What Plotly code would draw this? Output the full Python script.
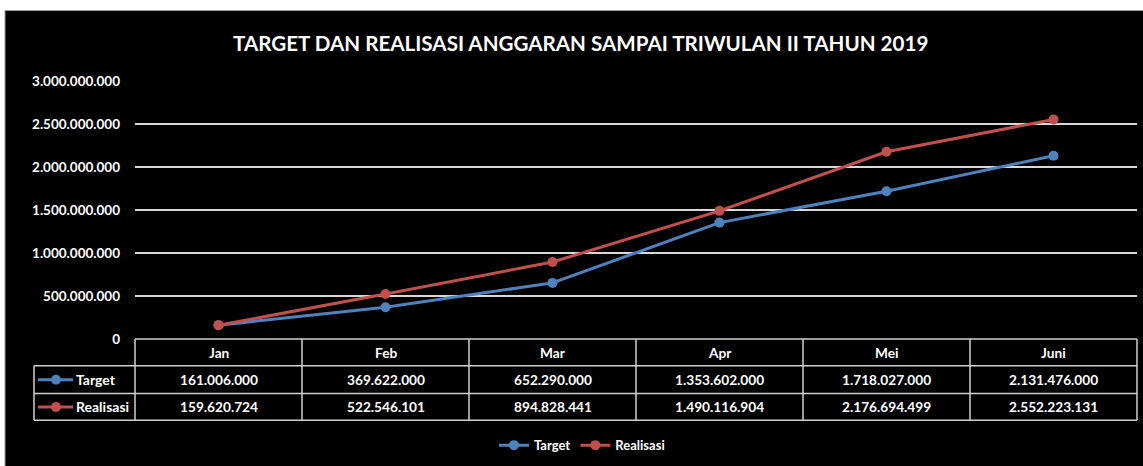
import plotly.graph_objects as go

months = ["Jan", "Feb", "Mar", "Apr", "Mei", "Juni"]
target = [161006000, 369622000, 652290000, 1353602000, 1718027000, 2131476000]
realisasi = [159620724, 522546101, 894828441, 1490116904, 2176694499, 2552223131]
series_names = ["Target", "Realisasi"]
colors = ["#4F81BD", "#C0504D"]
title = "TARGET DAN REALISASI ANGGARAN SAMPAI TRIWULAN II TAHUN 2019"

W, H = 1143, 466
L, R, T, B = 135, 6, 81, 125
PW, PH = W - L - R, H - T - B
FONT = "Lato"

def fmt(v):
    return f"{v:,}".replace(",", ".")

def py(px):  # pixel y -> paper y
    return (H - B - px) / PH

def pxx(px):  # pixel x -> paper x
    return (px - L) / PW

n = len(months)

def bx(i):  # boundary before category i -> paper x
    return i / n

fig = go.Figure()
for name, vals, c in zip(series_names, [target, realisasi], colors):
    fig.add_trace(go.Scatter(
        x=months, y=vals, name=name, mode="lines+markers",
        line=dict(color=c, width=3), marker=dict(color=c, size=10),
    ))

shapes = []
annotations = []
# white strips (outside chart area)
shapes.append(dict(type="rect", xref="paper", yref="paper", x0=pxx(-5), x1=pxx(W + 5),
                   y0=py(10), y1=py(-5), fillcolor="white", line=dict(width=0), layer="above"))
shapes.append(dict(type="rect", xref="paper", yref="paper", x0=pxx(-5), x1=pxx(5),
                   y0=py(H + 5), y1=py(-5), fillcolor="white", line=dict(width=0), layer="above"))
shapes.append(dict(type="line", xref="paper", yref="paper", x0=pxx(5), x1=pxx(W + 5),
                   y0=py(10), y1=py(10), line=dict(color="#9a9a9a", width=1), layer="above"))
shapes.append(dict(type="line", xref="paper", yref="paper", x0=pxx(5), x1=pxx(5),
                   y0=py(H + 5), y1=py(10), line=dict(color="#9a9a9a", width=1), layer="above"))

# data table
xl = pxx(34)
rows = [341, 368, 396, 423]
bc = "#d0d0d0"
shapes.append(dict(type="line", xref="paper", yref="paper", x0=bx(0), x1=bx(n),
                   y0=py(rows[0]), y1=py(rows[0]), line=dict(color=bc, width=1.5)))
for r in rows[1:]:
    shapes.append(dict(type="line", xref="paper", yref="paper", x0=xl, x1=bx(n),
                       y0=py(r), y1=py(r), line=dict(color=bc, width=1.5)))
for i in range(n + 1):
    shapes.append(dict(type="line", xref="paper", yref="paper", x0=bx(i), x1=bx(i),
                       y0=py(rows[0]), y1=py(rows[3]), line=dict(color=bc, width=1.5)))
shapes.append(dict(type="line", xref="paper", yref="paper", x0=xl, x1=xl,
                   y0=py(rows[1]), y1=py(rows[3]), line=dict(color=bc, width=1.5)))

tf = dict(family=FONT, size=13.7, color="white", weight="bold")
for i, m in enumerate(months):
    annotations.append(dict(x=i, y=py((rows[0] + rows[1]) / 2), xref="x", yref="paper",
                            text=m, showarrow=False, font=tf, xanchor="center", yanchor="middle"))
for k, (name, vals, c) in enumerate(zip(series_names, [target, realisasi], colors)):
    yc = py((rows[k + 1] + rows[k + 2]) / 2)
    for i, v in enumerate(vals):
        annotations.append(dict(x=i, y=yc, xref="x", yref="paper", text=fmt(v),
                                showarrow=False, font=tf, xanchor="center", yanchor="middle"))
    annotations.append(dict(x=pxx(74), y=yc, xref="paper", yref="paper", text=name,
                            showarrow=False, font=dict(family=FONT, size=14, color="white", weight="bold"),
                            xanchor="left", yanchor="middle"))
    shapes.append(dict(type="line", xref="paper", yref="paper", x0=pxx(38), x1=pxx(73),
                       y0=yc, y1=yc, line=dict(color=c, width=3)))
    r = 5
    shapes.append(dict(type="circle", xref="paper", yref="paper", x0=pxx(56 - r), x1=pxx(56 + r),
                       y0=yc - r / PH, y1=yc + r / PH, fillcolor=c, line=dict(color=c, width=0)))

annotations.append(dict(x=pxx(580), y=py(43), xref="paper", yref="paper", text=title,
                        showarrow=False, xanchor="center", yanchor="middle",
                        font=dict(family=FONT, size=20.6, color="white", weight="bold")))

fig.update_layout(
    width=W, height=H,
    margin=dict(l=L, r=R, t=T, b=B),
    paper_bgcolor="black", plot_bgcolor="black",
    separators=",.",
    showlegend=True,
    legend=dict(orientation="h", x=pxx(582), y=py(448), xanchor="center", yanchor="middle",
                font=dict(family=FONT, size=13, color="white", weight="bold"),
                bgcolor="rgba(0,0,0,0)", itemwidth=30),
    shapes=shapes, annotations=annotations,
    font=dict(family=FONT),
)
fig.update_xaxes(type="category", range=[-0.5, n - 0.5], showticklabels=False,
                 showgrid=False, zeroline=False, showline=False)
fig.update_yaxes(range=[0, 3e9], dtick=5e8, tickformat=",d", showgrid=True,
                 gridcolor="#d9d9d9", gridwidth=1.5, zeroline=False, showline=False,
                 ticklabelstandoff=14,
                 tickfont=dict(family=FONT, size=13.5, color="white", weight="bold"))

fig.write_html("out.html", config={"displayModeBar": False},
               post_script="document.body.style.margin='0';document.body.style.overflow='hidden';")
